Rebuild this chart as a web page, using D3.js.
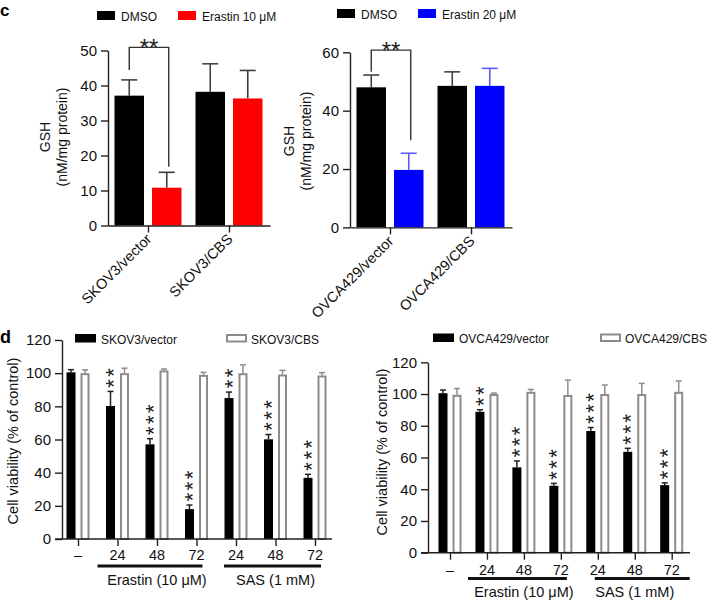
<!DOCTYPE html>
<html><head><meta charset="utf-8">
<script src="https://cdn.jsdelivr.net/npm/d3@7"></script>
<style>
html,body{margin:0;padding:0;background:#fff;}
svg{display:block;font-family:"Liberation Sans",Arial,Helvetica,sans-serif;}
</style></head><body>
<svg id="chart" width="711" height="602"></svg>
<script>
// ---------- DATA ----------
// Panel c (left): SKOV3, GSH (nM/mg protein)
const gshCatsL = ["SKOV3/vector", "SKOV3/CBS"];
const gshDmsoL = [37.1, 38.2];
const gshDmsoErrL = [4.5, 8.0];
const gshErastin10 = [10.8, 36.3];
const gshErastin10Err = [4.4, 8.0];
const gshTicksL = [0, 10, 20, 30, 40, 50];
const bracketL = [44.4, 50.9, 16.8]; // left leg end, bar level, right leg end
// Panel c (right): OVCA429
const gshCatsR = ["OVCA429/vector", "OVCA429/CBS"];
const gshDmsoR = [48.0, 48.5];
const gshDmsoErrR = [4.2, 4.8];
const gshErastin20 = [19.7, 48.5];
const gshErastin20Err = [5.7, 6.0];
const gshTicksR = [0, 20, 40, 60];
const bracketR = [53.3, 60.75, 29.9];
// Panel d: cell viability (% of control)
const treatLabels = ["\u2013", "24", "48", "72", "24", "48", "72"];
const groupNames = ["Erastin (10 \u03bcM)", "SAS (1 mM)"];
const groupSpans = [[1, 3], [4, 6]];
const viabTicks = [0, 20, 40, 60, 80, 100, 120];
const skovVector = [100.5, 80.2, 57.1, 18.0, 85.0, 60.1, 36.9];
const skovVectorErr = [1.6, 8.8, 3.4, 2.5, 3.6, 2.9, 2.1];
const skovCBS = [100, 100, 101.7, 99, 100, 99.2, 98.6];
const skovCBSErr = [2, 3, 0.8, 1.5, 5, 2.5, 1.7];
const skovStars = [0, 2, 3, 3, 2, 3, 3];
const ovcaVector = [100.5, 88.8, 53.8, 42.2, 76.7, 63.6, 42.6];
const ovcaVectorErr = [2, 1.3, 4, 1.5, 2.2, 2.2, 1.4];
const ovcaCBS = [99.5, 100, 101.4, 99.4, 100, 100, 101.4];
const ovcaCBSErr = [4, 0.6, 1.5, 9.4, 5.7, 6.7, 6.8];
const ovcaStars = [0, 2, 3, 3, 3, 3, 3];

// ---------- DRAWING ----------
const svg = d3.select("#chart");
const AX = "#231f20";
const FONT = '"Liberation Sans",Arial,Helvetica,sans-serif';

function styleAxis(g, fs) {
  g.attr("font-family", FONT).attr("font-size", fs);
  g.selectAll("path,line").attr("stroke", AX).attr("stroke-width", 1.4);
  g.selectAll("text").attr("fill", "#111");
}

function txt(g, x, y, s, fs, opts = {}) {
  const t = g.append("text").attr("x", x).attr("y", y).text(s)
    .attr("font-size", fs).attr("fill", opts.fill || "#111")
    .attr("text-anchor", opts.anchor || "start");
  if (opts.weight) t.attr("font-weight", opts.weight);
  if (opts.rotate !== undefined) t.attr("transform", `rotate(${opts.rotate},${x},${y})`);
  return t;
}

function topPanel(c) {
  const g = svg.append("g");
  const y = d3.scaleLinear().domain([0, c.max]).range([c.yBot, c.yTop]);
  const x = d3.scaleBand().domain(c.cats).range([c.x0, c.x1]);
  const cx = d => x(d) + x.bandwidth() / 2;

  const series = [
    { vals: c.dmso, errs: c.dmsoErr, off: -19.25, fill: "#000", err: "#444" },
    { vals: c.trt, errs: c.trtErr, off: 18.25, fill: c.trtColor, err: c.trtErrColor }
  ];
  series.forEach(s => {
    const d = c.cats.map((k, i) => ({ k, v: s.vals[i], e: s.errs[i] }));
    g.selectAll(null).data(d).enter().append("line")
      .attr("x1", q => cx(q.k) + s.off).attr("x2", q => cx(q.k) + s.off)
      .attr("y1", q => y(q.v)).attr("y2", q => y(q.v + q.e))
      .attr("stroke", s.err).attr("stroke-width", 1.6);
    g.selectAll(null).data(d).enter().append("line")
      .attr("x1", q => cx(q.k) + s.off - 8).attr("x2", q => cx(q.k) + s.off + 8)
      .attr("y1", q => y(q.v + q.e)).attr("y2", q => y(q.v + q.e))
      .attr("stroke", s.err).attr("stroke-width", 1.6);
    g.selectAll(null).data(d).enter().append("rect")
      .attr("x", q => cx(q.k) + s.off - 14.75).attr("width", 29.5)
      .attr("y", q => y(q.v)).attr("height", q => y(0) - y(q.v))
      .attr("fill", s.fill);
  });

  const ya = g.append("g").attr("transform", `translate(${c.x0},0)`)
    .call(d3.axisLeft(y).tickValues(c.ticks).tickSize(7).tickSizeOuter(0).tickPadding(4));
  styleAxis(ya, 15);
  const xa = g.append("g").attr("transform", `translate(0,${c.yBot})`)
    .call(d3.axisBottom(x).tickSize(7).tickSizeOuter(0).tickFormat(""));
  styleAxis(xa, 15);

  c.cats.forEach(k => {
    txt(g, cx(k) + c.labDx, c.labY, k, 14.5, { anchor: "end", rotate: -45 });
  });

  const k0 = c.cats[0];
  const lx = cx(k0) - 19.25, rx = cx(k0) + 18.25 + 2;
  g.append("path")
    .attr("d", `M${lx},${y(c.bracket[0])}V${y(c.bracket[1])}H${rx}V${y(c.bracket[2])}`)
    .attr("fill", "none").attr("stroke", "#333").attr("stroke-width", 1.4);
  txt(g, (lx + rx) / 2, y(c.bracket[1]) + 9, "**", 24, { anchor: "middle", fill: "#222" });

  txt(g, c.gshX, c.titleY, "GSH", 14, { anchor: "middle", rotate: -90 });
  txt(g, c.unitX, c.titleY, "(nM/mg protein)", 14, { anchor: "middle", rotate: -90 });

  g.append("rect").attr("x", c.legX).attr("y", c.legY).attr("width", 18).attr("height", 9).attr("fill", "#000");
  txt(g, c.legX + 24, c.legY + 9.5, "DMSO", 12);
  g.append("rect").attr("x", c.legX2).attr("y", c.legY).attr("width", 18).attr("height", 9).attr("fill", c.trtColor);
  txt(g, c.legX2 + 24, c.legY + 9.5, c.trtLabel, 12);
}

topPanel({
  cats: gshCatsL, dmso: gshDmsoL, dmsoErr: gshDmsoErrL, trt: gshErastin10, trtErr: gshErastin10Err,
  ticks: gshTicksL, bracket: bracketL, max: 50,
  x0: 108, x1: 270, yTop: 50.5, yBot: 225.5,
  trtColor: "#ff0000", trtErrColor: "#3a3a3a", trtLabel: "Erastin 10 \u03bcM",
  labDx: 4, labY: 240, gshX: 50, unitX: 67, titleY: 137,
  legX: 97, legY: 11, legX2: 178
});
topPanel({
  cats: gshCatsR, dmso: gshDmsoR, dmsoErr: gshDmsoErrR, trt: gshErastin20, trtErr: gshErastin20Err,
  ticks: gshTicksR, bracket: bracketR, max: 60,
  x0: 350, x1: 512, yTop: 52.3, yBot: 227.4,
  trtColor: "#0000ff", trtErrColor: "#5a5aff", trtLabel: "Erastin 20 \u03bcM",
  labDx: 4, labY: 242, gshX: 294, unitX: 311, titleY: 141,
  legX: 337, legY: 9, legX2: 418
});

function bottomPanel(c) {
  const g = svg.append("g");
  const y = d3.scaleLinear().domain([0, 120]).range([c.yBot, c.yTop]);
  const x = d3.scalePoint().domain(d3.range(treatLabels.length)).range([c.p0, c.p1]);
  const GRAY = "#8c8c8c";

  const vec = treatLabels.map((k, i) => ({ i, v: c.vec[i], e: c.vecErr[i], s: c.stars[i] }));
  const cbs = treatLabels.map((k, i) => ({ i, v: c.cbs[i], e: c.cbsErr[i] }));

  [[vec, -7, "#222"], [cbs, 7, GRAY]].forEach(([d, off, col]) => {
    g.selectAll(null).data(d).enter().append("line")
      .attr("x1", q => x(q.i) + off).attr("x2", q => x(q.i) + off)
      .attr("y1", q => y(q.v)).attr("y2", q => y(q.v + q.e))
      .attr("stroke", col).attr("stroke-width", 1.5);
    g.selectAll(null).data(d).enter().append("line")
      .attr("x1", q => x(q.i) + off - 3).attr("x2", q => x(q.i) + off + 3)
      .attr("y1", q => y(q.v + q.e)).attr("y2", q => y(q.v + q.e))
      .attr("stroke", col).attr("stroke-width", 1.5);
  });
  g.selectAll(null).data(vec).enter().append("rect")
    .attr("x", q => x(q.i) - 7 - 4.5).attr("width", 9)
    .attr("y", q => y(q.v)).attr("height", q => y(0) - y(q.v)).attr("fill", "#000");
  g.selectAll(null).data(cbs).enter().append("rect")
    .attr("x", q => x(q.i) + 7 - 3.5).attr("width", 7)
    .attr("y", q => y(q.v) + 1).attr("height", q => y(0) - y(q.v) - 1)
    .attr("fill", "#fff").attr("stroke", GRAY).attr("stroke-width", 2);

  // significance stars: a single vertical (rotated) string per bar
  const SF = 22;
  vec.filter(q => q.s > 0).forEach(q => {
    const ax = x(q.i) - 7 + 0.48 * SF;
    const ay = y(q.v + q.e) - 8 + 0.195 * SF;
    g.append("text").attr("x", ax).attr("y", ay)
      .attr("transform", `rotate(-90,${ax},${ay})`)
      .attr("font-size", SF).attr("fill", "#222")
      .attr("letter-spacing", 11 - 0.389 * SF)
      .text("*".repeat(q.s));
  });

  const ya = g.append("g").attr("transform", `translate(${c.yx},0)`)
    .call(d3.axisLeft(y).tickValues(viabTicks).tickSize(7).tickSizeOuter(0).tickPadding(4));
  styleAxis(ya, 15);
  const xa = g.append("g").attr("transform", `translate(0,${c.yBot})`)
    .call(d3.axisBottom(x).tickSize(7).tickSizeOuter(0).tickFormat(""));
  styleAxis(xa, 15);
  xa.select(".domain").remove();
  g.append("line").attr("x1", c.yx - 7).attr("x2", c.xEnd).attr("y1", c.yBot).attr("y2", c.yBot)
    .attr("stroke", AX).attr("stroke-width", 1.4);

  treatLabels.forEach((s, i) => txt(g, x(i), c.tickLabY, s, 14.5, { anchor: "middle" }));
  groupSpans.forEach((sp, j) => {
    const a = x(sp[0]) + c.lineOff[j][0], b = x(sp[1]) + c.lineOff[j][1];
    g.append("line").attr("x1", a).attr("x2", b).attr("y1", c.lineY).attr("y2", c.lineY)
      .attr("stroke", "#111").attr("stroke-width", 3.2);
    txt(g, (x(sp[0]) + x(sp[1])) / 2, c.groupY, groupNames[j], 14.5, { anchor: "middle" });
  });

  txt(g, c.titleX, c.titleY, "Cell viability (% of control)", 14.5, { anchor: "middle", rotate: -90 });

  g.append("rect").attr("x", c.legX).attr("y", c.legY).attr("width", 21).attr("height", 8.5).attr("fill", "#000");
  txt(g, c.legX + 26, c.legY + 9.5, c.vecLabel, 12);
  g.append("rect").attr("x", c.legX2 + 1).attr("y", c.legY + 1).attr("width", 19).attr("height", 6.5)
    .attr("fill", "#fff").attr("stroke", GRAY).attr("stroke-width", 2);
  txt(g, c.legX2 + 25, c.legY + 9.5, c.cbsLabel, 12);
}

bottomPanel({
  vec: skovVector, vecErr: skovVectorErr, cbs: skovCBS, cbsErr: skovCBSErr, stars: skovStars,
  yx: 62, xEnd: 332, p0: 78, p1: 315, yTop: 340, yBot: 539,
  tickLabY: 560, lineY: 566, groupY: 585, lineOff: [[-20, 6], [-12, 6]],
  titleX: 18, titleY: 441,
  legX: 75, legY: 334, legX2: 226, vecLabel: "SKOV3/vector", cbsLabel: "SKOV3/CBS"
});
bottomPanel({
  vec: ovcaVector, vecErr: ovcaVectorErr, cbs: ovcaCBS, cbsErr: ovcaCBSErr, stars: ovcaStars,
  yx: 428, xEnd: 690, p0: 450, p1: 671.7, yTop: 362.3, yBot: 552.7,
  tickLabY: 575, lineY: 578.5, groupY: 597, lineOff: [[-19, 6], [-3, 18]],
  titleX: 387, titleY: 452,
  legX: 433, legY: 333.5, legX2: 600, vecLabel: "OVCA429/vector", cbsLabel: "OVCA429/CBS"
});

// panel letters
txt(svg, 0, 15.5, "c", 17, { weight: "bold", fill: "#000" });
txt(svg, 0, 343, "d", 18, { weight: "bold", fill: "#000" });
</script>
</body></html>
